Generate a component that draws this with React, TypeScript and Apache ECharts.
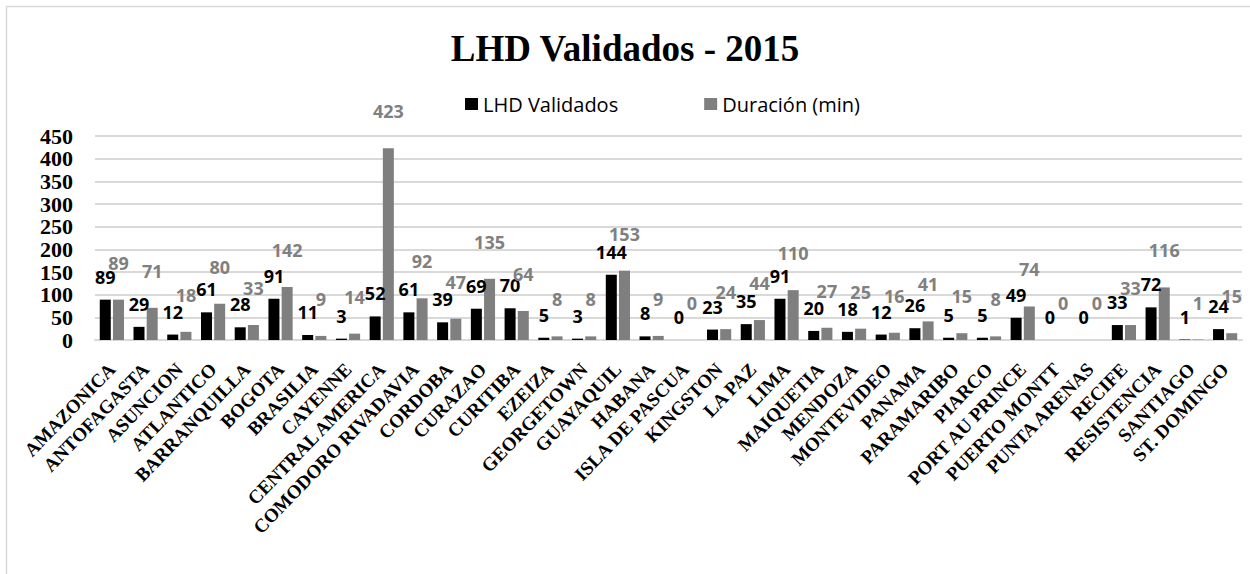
import React, { useEffect, useRef } from "react";
import * as echarts from "echarts";

const categories = [
  "AMAZONICA", "ANTOFAGASTA", "ASUNCION", "ATLANTICO", "BARRANQUILLA", "BOGOTA",
  "BRASILIA", "CAYENNE", "CENTRAL AMERICA", "COMODORO RIVADAVIA", "CORDOBA", "CURAZAO",
  "CURITIBA", "EZEIZA", "GEORGETOWN", "GUAYAQUIL", "HABANA", "ISLA DE PASCUA",
  "KINGSTON", "LA PAZ", "LIMA", "MAIQUETIA", "MENDOZA", "MONTEVIDEO", "PANAMA",
  "PARAMARIBO", "PIARCO", "PORT AU PRINCE", "PUERTO MONTT", "PUNTA ARENAS", "RECIFE",
  "RESISTENCIA", "SANTIAGO", "ST. DOMINGO",
];

const lhdValidados = [
  89, 29, 12, 61, 28, 91, 11, 3, 52, 61, 39, 69, 70, 5, 3, 144, 8, 0, 23, 35, 91, 20,
  18, 12, 26, 5, 5, 49, 0, 0, 33, 72, 1, 24,
];

// Bar heights as drawn in the reference
const duracion = [
  89, 71, 18, 80, 33, 117, 9, 14, 423, 92, 47, 135, 64, 8, 8, 153, 9, 0, 24, 44, 110,
  27, 25, 16, 41, 15, 8, 74, 0, 0, 33, 116, 1, 15,
];

// Label text that differs from the drawn bar in the reference
const duracionLabelOverride: Record<string, number> = { BOGOTA: 142 };

const yTicks = { min: 0, max: 450, interval: 50 };

export default function App() {
  const ref = useRef<HTMLDivElement>(null);

  useEffect(() => {
    if (!ref.current) return;
    const chart = echarts.init(ref.current, undefined, { renderer: "svg" });
    const sans = "'Open Sans', 'Noto Sans', sans-serif";
    const serif = "'Liberation Serif', 'DejaVu Serif', serif";
    chart.setOption({
      animation: false,
      backgroundColor: "#ffffff",
      title: {
        text: "LHD Validados - 2015",
        left: "center",
        top: 30,
        padding: 0,
        textStyle: { fontFamily: serif, fontWeight: "bold", fontSize: 37, color: "#000" },
      },
      legend: {
        left: 460,
        top: 89,
        itemWidth: 13,
        itemHeight: 12,
        itemGap: 86,
        icon: "rect",
        textStyle: { fontFamily: sans, fontSize: 20, color: "#000" },
        data: ["LHD Validados", "Duración (min)"],
      },
      graphic: [
        {
          type: "rect",
          shape: { x: 6.5, y: 6.5, width: 1300, height: 620 },
          style: { fill: "none", stroke: "#d9d9d9", lineWidth: 1.5 },
          silent: true,
        },
      ],
      grid: { left: 95, right: 8, top: 136, bottom: 234 },
      xAxis: {
        type: "category",
        data: categories,
        axisLine: { show: true, lineStyle: { color: "#d9d9d9", width: 2 } },
        axisTick: { show: false },
        axisLabel: {
          interval: 0,
          rotate: 46,
          margin: 26,
          fontFamily: serif,
          fontWeight: "bold",
          fontSize: 19,
          color: "#000",
        },
      },
      yAxis: {
        type: "value",
        min: yTicks.min,
        max: yTicks.max,
        interval: yTicks.interval,
        axisLine: { show: false },
        axisTick: { show: false },
        splitLine: { lineStyle: { color: "#d9d9d9", width: 2 } },
        axisLabel: {
          margin: 22,
          fontFamily: serif,
          fontWeight: "bold",
          fontSize: 22,
          color: "#000",
        },
      },
      series: [
        {
          name: "LHD Validados",
          type: "bar",
          data: lhdValidados,
          barWidth: 11,
          barGap: "20%",
          itemStyle: { color: "#000000" },
          label: {
            show: true,
            position: "top",
            distance: 14,
            fontFamily: sans,
            fontWeight: "bold",
            fontSize: 18,
            color: "#000",
          },
        },
        {
          name: "Duración (min)",
          type: "bar",
          data: duracion,
          barWidth: 11,
          barGap: "20%",
          itemStyle: { color: "#7f7f7f" },
          label: {
            show: true,
            position: "top",
            distance: 28,
            fontFamily: sans,
            fontWeight: "bold",
            fontSize: 18,
            color: "#808080",
            formatter: (p: any) =>
              String(duracionLabelOverride[p.name] ?? p.value),
          },
        },
      ],
    });
    return () => chart.dispose();
  }, []);

  return (
    <div
      ref={ref}
      style={{ position: "absolute", left: 0, top: 0, width: 1250, height: 574 }}
    />
  );
}
